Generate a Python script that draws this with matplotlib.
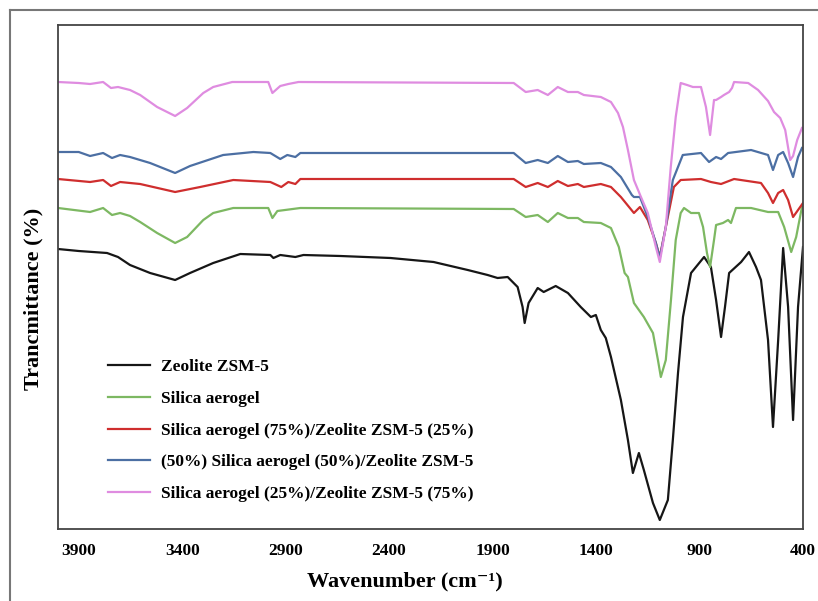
import matplotlib
matplotlib.use("Agg")
import matplotlib.pyplot as plt
from matplotlib.lines import Line2D

plt.rcParams['font.family'] = ['Liberation Serif', 'DejaVu Serif']
plt.rcParams['font.weight'] = 'bold'

# ---- data (wavenumber cm^-1, transmittance in arbitrary offset units) ----
labels = ["Zeolite ZSM-5", "Silica aerogel",
          "Silica aerogel (75%)/Zeolite ZSM-5 (25%)",
          "(50%) Silica aerogel (50%)/Zeolite ZSM-5",
          "Silica aerogel (25%)/Zeolite ZSM-5 (75%)"]
colors = ["#161616", "#7db862", "#cf2e2e", "#4c6fa3", "#df8ce0"]

zsm_wn = [4000, 3900, 3763, 3710, 3652, 3555, 3434, 3362, 3250, 3119, 2974, 2959,
          2926, 2853, 2814, 2635, 2393, 2185, 2020, 1924, 1876, 1827, 1779, 1755,
          1745, 1726, 1682, 1653, 1595, 1536, 1474, 1425, 1401, 1377, 1353, 1328,
          1280, 1246, 1222, 1193, 1169, 1125, 1092, 1053, 1029, 1004, 980, 941,
          878, 845, 820, 796, 777, 757, 699, 661, 627, 603, 569, 545, 520, 496,
          472, 448, 424, 400]
zsm_t = [279, 277, 275, 271, 263, 255, 248, 255, 265, 274, 273, 270,
         273, 271, 273, 272, 270, 266, 258, 253, 250, 251, 241, 221,
         205, 225, 240, 236, 242, 235, 221, 211, 213, 198, 190, 171,
         128, 88, 55, 75, 58, 25, 8, 28, 88, 155, 211, 255,
         271, 261, 228, 191, 221, 255, 266, 276, 261, 248, 188, 101, 188, 280,
         221, 108, 221, 281]

sa_wn = [4000, 3845, 3782, 3739, 3700, 3652, 3603, 3521, 3434, 3376, 3298, 3250,
         3153, 2984, 2964, 2940, 2829, 1798, 1740, 1682, 1633, 1585, 1536, 1488,
         1459, 1377, 1328, 1290, 1262, 1246, 1217, 1169, 1125, 1101, 1087, 1063,
         1038, 1015, 991, 975, 941, 903, 883, 864, 849, 830, 820, 787, 762, 748,
         724, 651, 569, 520, 491, 457, 433, 405]
sa_t = [320, 316, 320, 313, 315, 312, 306, 295, 285, 291, 308, 315,
        320, 320, 310, 317, 320, 319, 311, 313, 306, 315, 310, 310,
        306, 305, 300, 281, 255, 251, 225, 211, 195, 168, 151, 168,
        228, 288, 315, 320, 315, 315, 301, 275, 261, 288, 303, 305, 308, 305,
        320, 320, 316, 316, 301, 276, 291, 321]

s75_wn = [4000, 3845, 3782, 3744, 3700, 3603, 3434, 3313, 3153, 2974, 2921, 2887,
          2853, 2829, 1798, 1740, 1682, 1633, 1585, 1536, 1488, 1459, 1377, 1328,
          1280, 1217, 1188, 1150, 1111, 1092, 1063, 1024, 991, 893, 845, 796,
          733, 603, 569, 545, 520, 496, 472, 448, 424, 400]
s75_t = [349, 346, 348, 342, 346, 344, 336, 341, 348, 346, 341, 346,
         344, 349, 349, 341, 345, 341, 347, 342, 344, 341, 344, 341,
         331, 315, 321, 308, 285, 271, 301, 341, 348, 349, 346, 344,
         349, 345, 335, 325, 335, 338, 328, 311, 318, 325]

s50_wn = [4000, 3900, 3845, 3782, 3739, 3700, 3652, 3555, 3434, 3362, 3202, 3056,
          2974, 2926, 2892, 2853, 2829, 1798, 1740, 1682, 1633, 1585, 1536, 1488,
          1459, 1377, 1328, 1280, 1227, 1217, 1188, 1150, 1111, 1092, 1063, 1029,
          981, 893, 854, 820, 796, 762, 651, 569, 545, 520, 496, 472, 448, 424, 405]
s50_t = [376, 376, 372, 375, 370, 373, 371, 365, 355, 362, 373, 376,
         375, 369, 373, 371, 375, 375, 365, 368, 365, 372, 366, 367,
         364, 365, 361, 351, 333, 331, 331, 311, 285, 270, 301, 348,
         373, 375, 366, 371, 369, 375, 378, 373, 358, 373, 376, 365, 351, 371, 380]

s25_wn = [4000, 3900, 3845, 3782, 3744, 3710, 3652, 3603, 3521, 3434, 3376, 3298,
          3250, 3158, 2984, 2964, 2926, 2887, 2838, 1798, 1740, 1682, 1633, 1585,
          1536, 1488, 1459, 1377, 1328, 1294, 1270, 1246, 1217, 1183, 1150, 1111,
          1092, 1063, 1039, 1015, 991, 960, 932, 893, 869, 849, 830, 820, 796, 782,
          757, 743, 733, 665, 617, 569, 540, 510, 486, 462, 448, 428, 405]
s25_t = [446, 445, 444, 446, 440, 441, 438, 433, 421, 412, 420, 435,
         441, 446, 446, 435, 442, 444, 446, 445, 436, 438, 433, 441,
         436, 436, 433, 431, 426, 415, 401, 378, 348, 331, 315, 281,
         266, 301, 361, 411, 445, 443, 441, 441, 421, 393, 428, 428, 431, 433,
         436, 440, 446, 445, 438, 427, 416, 410, 398, 368, 372, 388, 400]

series = [(zsm_wn, zsm_t), (sa_wn, sa_t), (s75_wn, s75_t), (s50_wn, s50_t), (s25_wn, s25_t)]
xticks = [3900, 3400, 2900, 2400, 1900, 1400, 900, 400]

W, H = 818, 601
fig = plt.figure(figsize=(W / 100, H / 100), dpi=100)
ax = fig.add_axes([58 / W, 1 - 529 / H, (803 - 58) / W, (529 - 25) / H])

for (x, y), c, lab in zip(series, colors, labels):
    ax.plot(x, y, color=c, lw=1.6, label=lab, solid_joinstyle='round')

ax.set_xlim(4000, 400)
ax.set_ylim(-1, 503)
ax.set_xticks(xticks)
ax.set_xticklabels([str(t) for t in xticks], fontsize=12.5, fontweight='bold')
ax.set_yticks([])
ax.tick_params(axis='x', length=0, pad=10)
for s in ax.spines.values():
    s.set_color('#444444')
    s.set_linewidth(1.3)

fig.text(405 / W, 1 - 581 / H, 'Wavenumber (cm\u207b\u00b9)', ha='center', va='center',
         fontsize=16, fontweight='bold')
fig.text(33 / W, 1 - 299 / H, 'Trancmittance (%)', ha='center', va='center',
         rotation=90, fontsize=16, fontweight='bold')

handles = [Line2D([], [], color=c, lw=1.6) for c in colors]
ax.legend(handles, labels, loc='upper left', bbox_to_anchor=(108 / W, 1 - 359 / H),
          bbox_transform=fig.transFigure, frameon=False,
          prop={'weight': 'bold', 'size': 12.5}, borderpad=0, borderaxespad=0,
          handlelength=2.42, handletextpad=0.63, labelspacing=0.9)

# outer frame lines (top and left)
fig.add_artist(Line2D([10 / W, 1], [1 - 10 / H, 1 - 10 / H], color='#777777', lw=1.5,
                      transform=fig.transFigure))
fig.add_artist(Line2D([10 / W, 10 / W], [0, 1 - 10 / H], color='#777777', lw=1.5,
                      transform=fig.transFigure))

fig.savefig('out.png', dpi=100)
